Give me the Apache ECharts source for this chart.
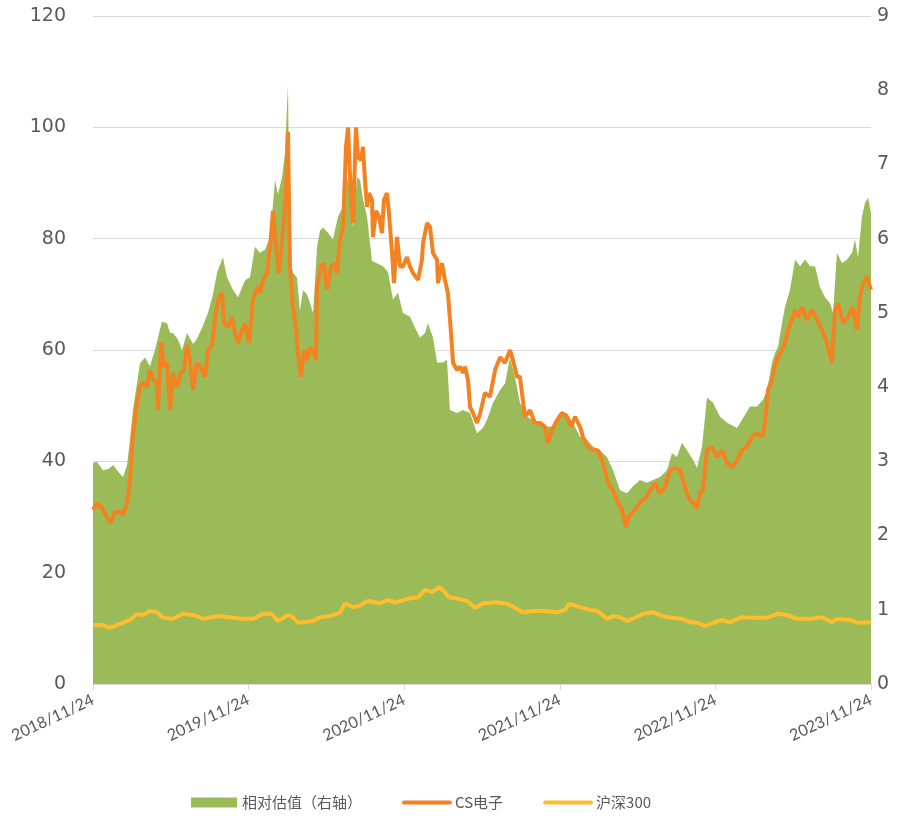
<!DOCTYPE html>
<html>
<head>
<meta charset="utf-8">
<script src="https://cdn.jsdelivr.net/npm/echarts@6/dist/echarts.min.js"></script>
<style>
  html, body { margin: 0; padding: 0; background: #fff; }
  #chart { width: 910px; height: 818px; }
</style>
</head>
<body>
<div id="chart"></div>
<script>
// x positions are years since 2018/11/24
const tickLabels = ['2018/11/24', '2019/11/24', '2020/11/24', '2021/11/24', '2022/11/24', '2023/11/24']
const seriesNames = ['相对估值（右轴）', 'CS电子', '沪深300']

// 相对估值 (right axis)
const relT = [0, 0.026, 0.064, 0.103, 0.129, 0.167, 0.193, 0.219, 0.238, 0.257, 0.302, 0.334, 0.366, 0.398, 0.443, 0.476, 0.495, 0.514, 0.546, 0.572,
  0.604, 0.643, 0.668, 0.701, 0.739, 0.771, 0.797, 0.835, 0.861, 0.900, 0.932, 0.977, 1.009, 1.041, 1.073, 1.105, 1.138, 1.170, 1.189, 1.215,
  1.234, 1.253, 1.266, 1.285, 1.311, 1.330, 1.350, 1.375, 1.395, 1.414, 1.440, 1.459, 1.478, 1.510, 1.542, 1.575, 1.607, 1.632, 1.652, 1.671,
  1.697, 1.716, 1.735, 1.761, 1.793, 1.825, 1.864, 1.896, 1.928, 1.960, 1.992, 2.037, 2.069, 2.102, 2.134, 2.153, 2.185, 2.211, 2.249, 2.275,
  2.294, 2.339, 2.378, 2.423, 2.468, 2.506, 2.532, 2.571, 2.616, 2.648, 2.680, 2.712, 2.744, 2.789, 2.828, 2.873, 2.918, 2.956, 3.001, 3.046,
  3.085, 3.130, 3.175, 3.213, 3.258, 3.303, 3.342, 3.387, 3.432, 3.470, 3.515, 3.560, 3.599, 3.644, 3.689, 3.721, 3.753, 3.785, 3.817, 3.856,
  3.882, 3.914, 3.946, 3.985, 4.030, 4.075, 4.139, 4.171, 4.222, 4.267, 4.306, 4.332, 4.364, 4.383, 4.402, 4.428, 4.447, 4.479, 4.512, 4.544,
  4.576, 4.608, 4.640, 4.672, 4.704, 4.737, 4.756, 4.781, 4.814, 4.846, 4.878, 4.897, 4.917, 4.942, 4.961, 4.981, 5.0]
const relV = [2.98, 2.99, 2.88, 2.90, 2.95, 2.85, 2.79, 2.95, 3.30, 3.69, 4.32, 4.40, 4.28, 4.50, 4.88, 4.86, 4.73, 4.73, 4.64, 4.50,
  4.73, 4.58, 4.65, 4.80, 5.00, 5.25, 5.54, 5.75, 5.48, 5.31, 5.21, 5.44, 5.48, 5.89, 5.81, 5.85, 6.02, 6.79, 6.60, 6.83,
  7.16, 8.07, 5.70, 5.54, 5.48, 5.03, 5.31, 5.25, 5.13, 5.00, 5.89, 6.11, 6.15, 6.08, 5.99, 6.30, 6.43, 6.83, 6.68, 6.15,
  6.83, 6.79, 6.53, 6.30, 5.70, 5.67, 5.63, 5.55, 5.18, 5.27, 5.00, 4.95, 4.80, 4.67, 4.73, 4.86, 4.67, 4.33, 4.33, 4.37,
  3.69, 3.65, 3.69, 3.65, 3.38, 3.45, 3.56, 3.79, 3.96, 4.05, 4.40, 4.13, 3.79, 3.60, 3.56, 3.52, 3.47, 3.47, 3.65, 3.65,
  3.52, 3.33, 3.29, 3.20, 3.15, 3.06, 2.88, 2.61, 2.57, 2.66, 2.75, 2.71, 2.75, 2.79, 2.88, 3.11, 3.06, 3.25, 3.15, 3.02,
  2.91, 3.20, 3.86, 3.79, 3.60, 3.52, 3.45, 3.56, 3.74, 3.74, 3.83, 3.96, 4.33, 4.46, 4.54, 4.86, 5.08, 5.31, 5.72, 5.63,
  5.72, 5.63, 5.63, 5.35, 5.21, 5.13, 5.00, 5.81, 5.67, 5.72, 5.81, 5.99, 5.75, 6.30, 6.48, 6.55, 6.35]

// CS电子 (left axis)
const csT = [0, 0.026, 0.058, 0.090, 0.116, 0.141, 0.174, 0.193, 0.219, 0.238, 0.257, 0.283, 0.302, 0.321, 0.347, 0.366, 0.386, 0.411, 0.418, 0.437,
  0.456, 0.476, 0.495, 0.514, 0.540, 0.566, 0.585, 0.604, 0.623, 0.643, 0.668, 0.701, 0.720, 0.739, 0.765, 0.784, 0.803, 0.829, 0.842, 0.868,
  0.893, 0.913, 0.932, 0.958, 0.977, 1.003, 1.028, 1.054, 1.073, 1.093, 1.118, 1.138, 1.157, 1.176, 1.195, 1.221, 1.240, 1.253, 1.266, 1.285,
  1.305, 1.317, 1.337, 1.356, 1.375, 1.395, 1.414, 1.433, 1.440, 1.465, 1.485, 1.504, 1.530, 1.555, 1.568, 1.587, 1.607, 1.626, 1.639, 1.658,
  1.671, 1.690, 1.703, 1.722, 1.735, 1.748, 1.761, 1.774, 1.793, 1.799, 1.819, 1.838, 1.857, 1.870, 1.889, 1.902, 1.922, 1.934, 1.954, 1.973,
  1.992, 2.018, 2.037, 2.057, 2.089, 2.114, 2.121, 2.147, 2.166, 2.185, 2.211, 2.217, 2.243, 2.262, 2.281, 2.301, 2.314, 2.339, 2.359, 2.378,
  2.391, 2.410, 2.423, 2.442, 2.468, 2.487, 2.519, 2.551, 2.584, 2.616, 2.648, 2.680, 2.699, 2.725, 2.744, 2.776, 2.808, 2.841, 2.873, 2.905,
  2.924, 2.950, 2.982, 3.014, 3.046, 3.072, 3.098, 3.130, 3.149, 3.181, 3.213, 3.245, 3.271, 3.290, 3.310, 3.342, 3.374, 3.400, 3.425, 3.438,
  3.464, 3.496, 3.528, 3.560, 3.580, 3.612, 3.644, 3.676, 3.708, 3.740, 3.773, 3.798, 3.824, 3.856, 3.882, 3.901, 3.920, 3.946, 3.978, 4.010,
  4.042, 4.075, 4.107, 4.139, 4.171, 4.203, 4.235, 4.267, 4.300, 4.319, 4.338, 4.364, 4.383, 4.402, 4.428, 4.447, 4.467, 4.492, 4.512, 4.531,
  4.557, 4.589, 4.621, 4.653, 4.685, 4.717, 4.749, 4.769, 4.788, 4.820, 4.852, 4.884, 4.910, 4.929, 4.949, 4.974, 5.0]
const csV = [31.3, 32.5, 31.6, 30.0, 28.9, 30.9, 30.9, 30.4, 32.5, 36.6, 45.0, 50.5, 53.4, 54.2, 53.4, 56.4, 54.6, 54.0, 49.2, 61.4,
  57.0, 57.7, 49.2, 55.9, 53.4, 55.9, 56.4, 60.9, 58.2, 52.8, 57.7, 56.4, 55.2, 60.0, 60.9, 65.4, 69.0, 70.2, 64.8, 64.1,
  65.9, 63.0, 61.3, 63.6, 64.8, 61.3, 69.0, 71.3, 70.2, 72.6, 73.8, 78.5, 85.0, 78.5, 73.8, 81.5, 88.0, 99.2, 75.0, 67.7,
  64.1, 59.5, 55.2, 60.0, 58.2, 60.5, 59.5, 58.2, 71.3, 75.0, 75.6, 70.8, 75.0, 75.6, 73.8, 79.8, 82.0, 96.5, 100.0, 87.0,
  82.8, 100.0, 94.7, 94.1, 96.5, 90.5, 85.7, 88.2, 87.0, 80.3, 85.0, 84.0, 81.0, 87.0, 88.2, 84.6, 77.4, 72.0, 80.3, 75.0,
  75.0, 76.7, 75.0, 73.8, 72.6, 76.2, 79.2, 82.8, 82.1, 77.4, 76.2, 72.0, 75.6, 72.6, 70.2, 63.0, 57.7, 56.4, 57.0, 55.9,
  57.0, 54.6, 49.8, 48.7, 46.9, 48.5, 52.3, 51.6, 56.4, 58.7, 57.7, 60.0, 58.2, 55.2, 55.2, 48.0, 49.2, 46.9, 46.9, 46.2,
  43.3, 45.6, 47.4, 48.7, 48.0, 46.2, 48.0, 46.2, 44.4, 42.6, 42.0, 42.0, 40.2, 38.4, 36.1, 34.8, 32.5, 31.3, 28.2, 30.0,
  30.7, 31.8, 33.0, 33.6, 34.8, 36.1, 34.3, 35.4, 38.4, 38.8, 38.4, 36.1, 33.6, 32.5, 31.6, 34.3, 34.8, 42.0, 42.6, 40.8,
  42.0, 39.7, 39.0, 40.2, 42.0, 42.6, 44.4, 45.1, 44.4, 46.9, 52.8, 54.6, 57.0, 58.7, 60.0, 61.3, 63.6, 65.4, 67.2, 65.9,
  67.7, 65.4, 67.2, 65.4, 63.6, 61.3, 57.7, 67.2, 68.4, 64.8, 65.9, 67.7, 63.6, 69.5, 72.0, 73.1, 70.8]

// 沪深300 (left axis)
const hsT = [0, 0.058, 0.109, 0.174, 0.238, 0.283, 0.321, 0.366, 0.411, 0.450, 0.514, 0.578, 0.643, 0.707, 0.797, 0.880, 0.964, 1.028, 1.093, 1.150,
  1.189, 1.253, 1.285, 1.317, 1.350, 1.414, 1.459, 1.523, 1.587, 1.620, 1.671, 1.716, 1.767, 1.845, 1.896, 1.941, 1.973, 2.037, 2.089, 2.134,
  2.179, 2.224, 2.262, 2.288, 2.346, 2.404, 2.455, 2.506, 2.596, 2.661, 2.712, 2.763, 2.828, 2.892, 2.982, 3.033, 3.059, 3.130, 3.194, 3.245,
  3.303, 3.342, 3.387, 3.432, 3.483, 3.535, 3.599, 3.657, 3.721, 3.785, 3.837, 3.888, 3.933, 3.985, 4.042, 4.094, 4.171, 4.242, 4.332, 4.396,
  4.460, 4.524, 4.608, 4.685, 4.749, 4.781, 4.865, 4.917, 4.974, 5.0]
const hsV = [10.6, 10.6, 10.1, 10.8, 11.5, 12.6, 12.4, 13.1, 12.9, 11.9, 11.7, 12.6, 12.4, 11.7, 12.2, 12.0, 11.7, 11.7, 12.6, 12.6,
  11.3, 12.4, 12.0, 11.0, 11.1, 11.3, 12.0, 12.2, 12.8, 14.5, 13.8, 14.1, 14.9, 14.5, 15.1, 14.6, 14.9, 15.4, 15.6, 16.9,
  16.5, 17.4, 16.5, 15.6, 15.3, 14.9, 13.7, 14.5, 14.7, 14.4, 13.7, 12.9, 13.1, 13.1, 12.9, 13.3, 14.4, 13.8, 13.3, 13.1,
  11.7, 12.2, 12.0, 11.3, 11.9, 12.6, 12.9, 12.2, 11.9, 11.7, 11.1, 11.0, 10.4, 11.0, 11.5, 11.1, 12.0, 11.9, 11.9, 12.6,
  12.4, 11.7, 11.7, 12.0, 11.1, 11.7, 11.5, 11.0, 11.1, 11.0]

const pair = (ts, vs) => ts.map((t, i) => [t, vs[i]])

const chart = echarts.init(document.getElementById('chart'))
const gray = '#595959'
const option = {
  animation: false,
  backgroundColor: '#fff',
  grid: { left: 93, right: 39, top: 16, bottom: 134, containLabel: false },
  legend: {
    top: 790,
    left: 186,
    itemWidth: 46,
    itemHeight: 10,
    itemGap: 40,
    textStyle: { color: gray, fontSize: 15, fontFamily: 'Noto Sans CJK SC' },
    data: [
      { name: seriesNames[0], icon: 'rect' },
      { name: seriesNames[1], itemStyle: { opacity: 0 }, lineStyle: { width: 4, cap: 'round' } },
      { name: seriesNames[2], itemStyle: { opacity: 0 }, lineStyle: { width: 4, cap: 'round' } }
    ]
  },
  xAxis: {
    type: 'value',
    min: 0,
    max: 5,
    interval: 1,
    axisLine: { show: true, lineStyle: { color: '#d9d9d9', width: 1 } },
    axisTick: { show: true, length: 6, lineStyle: { color: '#d9d9d9' } },
    splitLine: { show: false },
    axisLabel: {
      rotate: 25,
      margin: 15,
      color: gray,
      fontSize: 16,
      fontFamily: 'Lato',
      formatter: v => tickLabels[Math.round(v)] || ''
    }
  },
  yAxis: [
    {
      type: 'value',
      min: 0,
      max: 120,
      interval: 20,
      axisLine: { show: false },
      axisTick: { show: false },
      splitLine: { lineStyle: { color: '#d9d9d9', width: 1 } },
      axisLabel: { color: gray, fontSize: 19, fontFamily: 'DejaVu Sans', margin: 27 }
    },
    {
      type: 'value',
      min: 0,
      max: 9,
      interval: 1,
      axisLine: { show: false },
      axisTick: { show: false },
      splitLine: { show: false },
      axisLabel: { color: gray, fontSize: 19, fontFamily: 'DejaVu Sans', margin: 6 }
    }
  ],
  series: [
    {
      name: seriesNames[0],
      type: 'line',
      yAxisIndex: 1,
      data: pair(relT, relV),
      showSymbol: false,
      symbol: 'none',
      color: '#9bbb59',
      lineStyle: { width: 0 },
      areaStyle: { color: '#9bbb59', opacity: 1 },
      z: 1
    },
    {
      name: seriesNames[2],
      type: 'line',
      yAxisIndex: 0,
      data: pair(hsT, hsV),
      showSymbol: false,
      symbol: 'none',
      color: '#fdbd2c',
      lineStyle: { width: 4, color: '#fdbd2c' },
      z: 3
    },
    {
      name: seriesNames[1],
      type: 'line',
      yAxisIndex: 0,
      data: pair(csT, csV),
      showSymbol: false,
      symbol: 'none',
      color: '#f58220',
      lineStyle: { width: 4, color: '#f58220' },
      z: 4
    }
  ]
}
chart.setOption(option)
</script>
</body>
</html>
